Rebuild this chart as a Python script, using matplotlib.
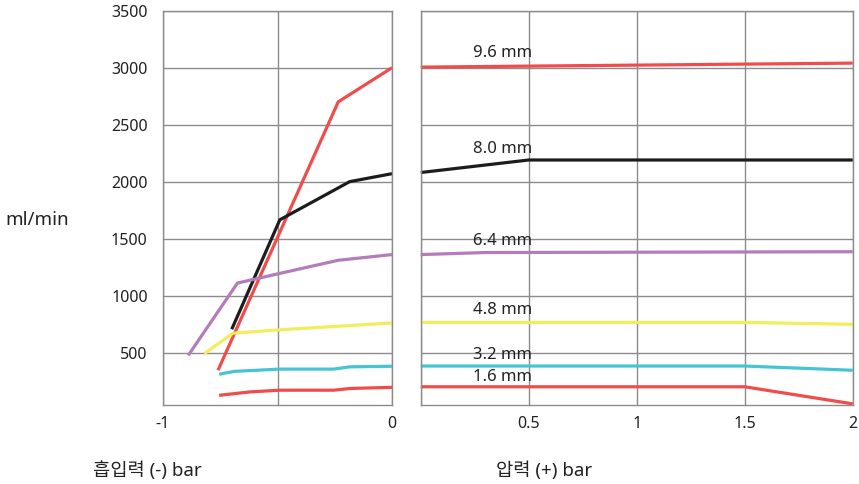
import matplotlib
matplotlib.use("Agg")
import matplotlib.pyplot as plt

plt.rcParams['font.family'] = ['Noto Sans', 'Noto Sans CJK KR', 'DejaVu Sans']

# flow (ml/min) per hose inner diameter; left = suction (-bar), right = pressure (+bar)
sizes = ['9.6 mm', '8.0 mm', '6.4 mm', '4.8 mm', '3.2 mm', '1.6 mm']
colors = ['#f24b4b', '#1c1c1c', '#b47cba', '#f3ec5c', '#47c4d3', '#f24b4b']

suction_x = [
    [-0.76, -0.235, 0],
    [-0.70, -0.49, -0.185, 0],
    [-0.89, -0.675, -0.49, -0.235, 0],
    [-0.82, -0.695, -0.49, 0],
    [-0.755, -0.69, -0.49, -0.255, -0.185, 0],
    [-0.755, -0.62, -0.49, -0.255, -0.185, 0],
]
suction_y = [
    [345, 2700, 3000],
    [705, 1665, 2000, 2070],
    [475, 1110, 1195, 1310, 1360],
    [490, 670, 700, 760],
    [310, 335, 355, 355, 375, 380],
    [125, 155, 170, 170, 185, 195],
]

pressure_x = [
    [0, 2],
    [0, 0.5, 2],
    [0, 0.3, 2],
    [0, 1.5, 2],
    [0, 1.5, 2],
    [0, 1.5, 2],
]
pressure_y = [
    [3005, 3040],
    [2080, 2190, 2190],
    [1360, 1378, 1385],
    [765, 765, 748],
    [382, 382, 345],
    [200, 200, 50],
]

label_y = [3130, 2290, 1483, 874, 476, 287]

fig = plt.figure(figsize=(8.59, 4.84), dpi=100)
ax1 = fig.add_axes([0.1898, 0.1632, 0.2666, 0.8147])
ax2 = fig.add_axes([0.4898, 0.1632, 0.5029, 0.8147])

grid_c = '#8c8c8c'
txt_c = '#222222'
fs = 11.5

for ax in (ax1, ax2):
    ax.set_ylim(40, 3475)
    ax.set_yticks([500, 1000, 1500, 2000, 2500, 3000, 3500])
    ax.grid(True, color=grid_c, linewidth=1.0)
    ax.set_axisbelow(True)
    for s in ax.spines.values():
        s.set_color(grid_c)
        s.set_linewidth(1.0)
    ax.tick_params(length=0, labelsize=fs, colors=txt_c, pad=8)

ax1.set_xlim(-1, 0)
ax1.set_xticks([-1, -0.5, 0])
ax1.set_xticklabels(['-1', '', '0'])
ax1.tick_params(axis='y', pad=11)

ax2.set_xlim(0, 2)
ax2.set_xticks([0, 0.5, 1, 1.5, 2])
ax2.set_xticklabels(['', '0.5', '1', '1.5', '2'])
ax2.set_yticklabels([])

for i in range(len(sizes)):
    ax1.plot(suction_x[i], suction_y[i], color=colors[i], lw=2.3, solid_capstyle='butt', clip_on=False)
    ax2.plot(pressure_x[i], pressure_y[i], color=colors[i], lw=2.3, solid_capstyle='butt', clip_on=False)
    ax2.text(0.24, label_y[i], sizes[i], fontsize=12, color=txt_c, va='center', ha='left')

fig.text(0.043, 0.545, 'ml/min', fontsize=13.5, color=txt_c, ha='center', va='center')
fig.text(0.172, 0.028, '흡입력 (-) bar', fontsize=13.5, color=txt_c, ha='center', va='center')
fig.text(0.634, 0.028, '압력 (+) bar', fontsize=13.5, color=txt_c, ha='center', va='center')

fig.savefig('out.png', dpi=100)
